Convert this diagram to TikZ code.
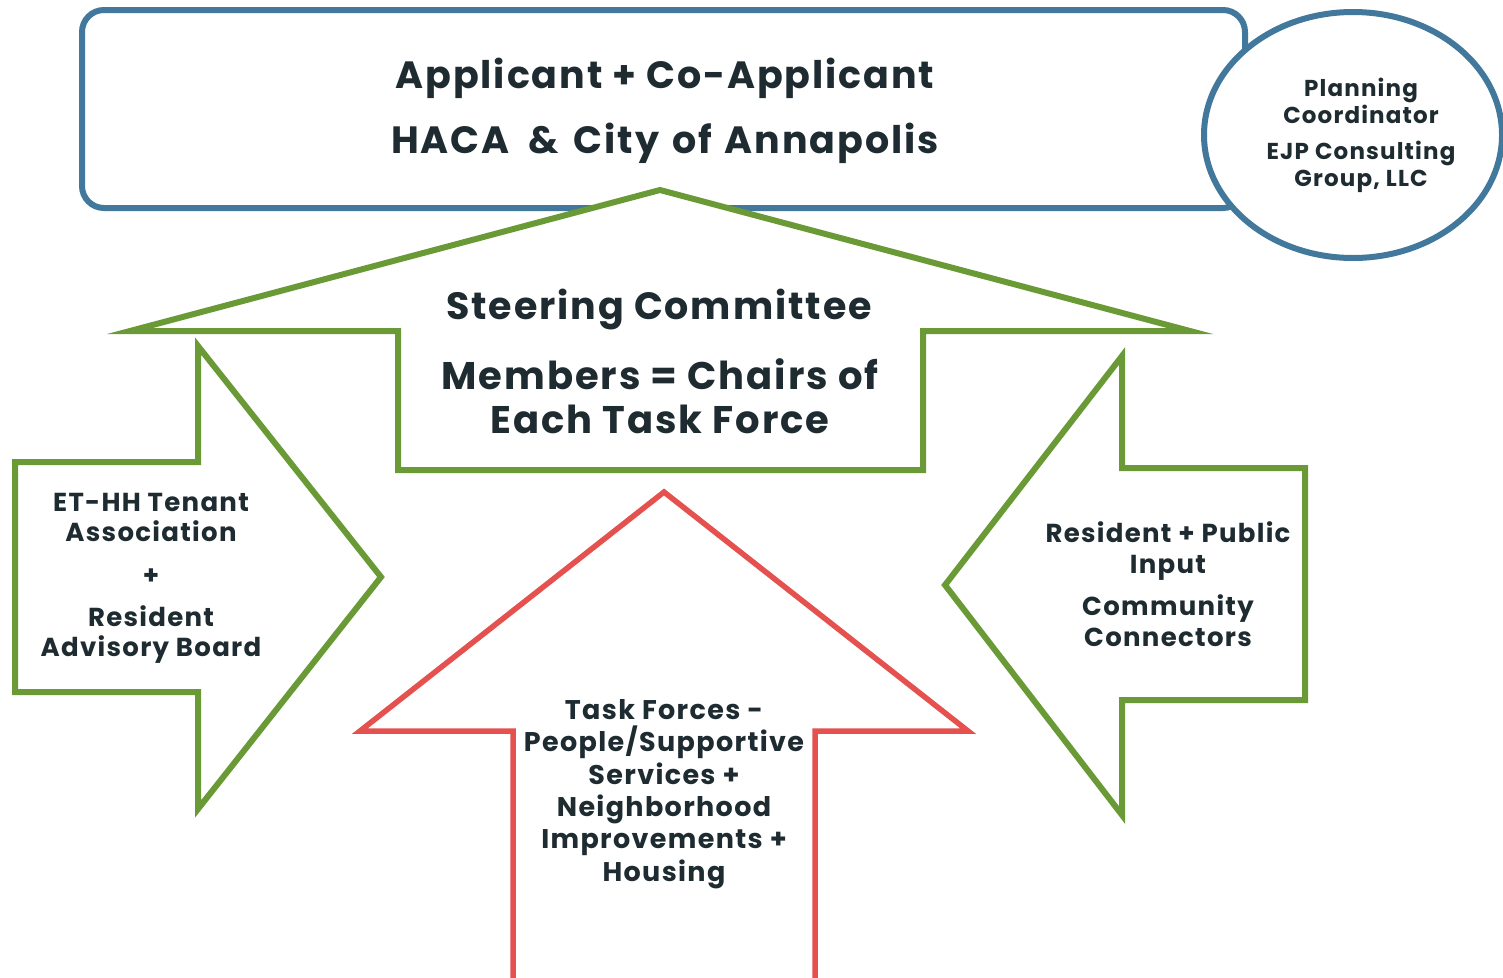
\documentclass[tikz,border=0pt]{standalone}
\usepackage{fontspec}
\setmainfont{Poppins}[LetterSpace=5]
\usetikzlibrary{shapes.geometric}
\definecolor{cblue}{HTML}{41789B}
\definecolor{cgreen}{HTML}{6A9A36}
\definecolor{cred}{HTML}{E4514F}
\definecolor{ctext}{HTML}{1E2B31}
\tikzset{
  txt/.style={text=ctext, font=\bfseries, align=center, inner sep=0pt},
  greenshape/.style={draw=cgreen, line width=6pt, fill=white},
  redshape/.style={draw=cred, line width=5.5pt, fill=white},
}
\newcommand{\fs}[2]{\fontsize{#1}{#2}\selectfont}
\begin{document}
\begin{tikzpicture}[x=1pt,y=-1pt]
\useasboundingbox (0,0) rectangle (1503,977);
\clip (0,0) rectangle (1503,977);
% applicant box
\node[draw=cblue, line width=6pt, rounded corners=22pt, minimum width=1163pt, minimum height=198pt, inner sep=0pt] (app) at (663.5,109) {};
\node[txt, font=\bfseries\fs{38}{65}] (apptext) at (665,111) {Applicant + Co-Applicant\\HACA\hspace{9pt} \&\hspace{5pt} City\hspace{3pt} of\hspace{3pt} Annapolis};
% planning coordinator ellipse
\node[ellipse, draw=cblue, line width=6pt, fill=white, minimum width=298pt, minimum height=246pt, inner sep=0pt] (pc) at (1353,135) {};
\node[txt, font=\bfseries\fs{23}{27}] (pctext) at (1361,135) {Planning\\Coordinator\\[9pt]EJP Consulting\\Group, LLC};
% steering committee arrow
\draw[greenshape] (660,190) coordinate (sapex) -- (1190,331) -- (923,331) -- (923,470) -- (398,470) -- (398,331) -- (130,331) -- cycle;
\node[txt, font=\bfseries\fs{38}{44}] (steer) at (659,310) {Steering Committee};
\node[txt, font=\bfseries\fs{38.5}{44}] (members) at (660,396) {Members = Chairs of\\Each Task Force};
% left arrow
\draw[greenshape] (15,462) -- (198,462) -- (198,346) -- (381,577) -- (198,809) -- (198,692) -- (15,692) -- cycle;
\node[txt, font=\bfseries\fs{26}{30}] (lefttext) at (151,578) {ET-HH Tenant\\Association\\[13pt]+\\[12pt]Resident\\Advisory Board};
% right arrow
\draw[greenshape] (1305,468) -- (1122,468) -- (1122,356) -- (945,585) -- (1122,815) -- (1122,700) -- (1305,700) -- cycle;
\node[txt, font=\bfseries\fs{26}{31}] (righttext) at (1168,584) {Resident + Public\\Input\\[11pt]Community\\Connectors};
% task forces arrow
\draw[redshape] (664,492) -- (968,731) -- (815,731) -- (815,1000) -- (513,1000) -- (513,731) -- (360,731) -- cycle;
\node[txt, font=\bfseries\fs{27}{32.4}] (redtext) at (664,794) {Task Forces -\\People/Supportive\\Services +\\Neighborhood\\Improvements +\\Housing};
\end{tikzpicture}
\end{document}
